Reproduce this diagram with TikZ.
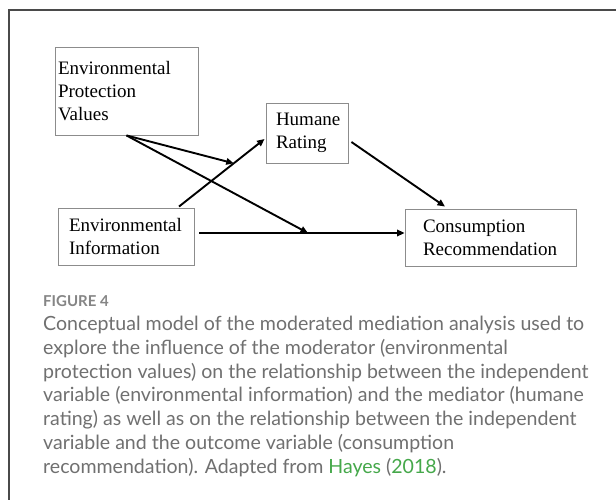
\documentclass[tikz,border=0pt]{standalone}
\usepackage{fontspec}
\setmainfont{Liberation Serif}
\newfontfamily\capfont{Lato}
\usetikzlibrary{arrows.meta,calc}
\definecolor{framegray}{HTML}{4A4A4A}
\definecolor{boxgray}{HTML}{8C8C8C}
\definecolor{captext}{HTML}{707070}
\definecolor{labelgray}{HTML}{858585}
\definecolor{hayes}{HTML}{45A84A}
\newlength\capwidth
% caption size chosen so the first line spans 541pt
\AtBeginDocument{%
  \settowidth\capwidth{\capfont\fontsize{10}{12}\selectfont Conceptual model of the moderated mediation analysis used to}%
  \pgfmathsetmacro\capsize{10*541/\capwidth}%
  \xdef\capsize{\capsize}}

\begin{document}
\begin{tikzpicture}[x=1pt,y=-1pt,
  varbox/.style={draw=boxgray,line width=0.9pt,rectangle,align=left,
    inner ysep=0pt,font=\fontsize{19}{23}\selectfont},
  arr/.style={line width=1.9pt,-{Triangle[length=7.5pt,width=6.5pt]}},
  capline/.style={anchor=base west,inner sep=0pt,text=captext,
    font=\capfont\fontsize{\capsize}{24}\selectfont},
  figlabel/.style={anchor=base west,inner sep=0pt,text=labelgray,
    font=\capfont\bfseries\fontsize{15}{18}\selectfont}]

\fill[white] (0,0) rectangle (616,500);
\useasboundingbox (0,0) rectangle (616,500);

% open frame: top and left edges only
\draw[framegray,line width=1.3pt] (616,10) -- (9,10) -- (9,500);

% variables
\node[varbox,minimum width=143pt,minimum height=88pt,inner xsep=3pt,text width=137pt]
  (epv) at (126.5,91) {Environmental\\Protection\\Values};
\node[varbox,minimum width=82pt,minimum height=60pt,inner xsep=10pt,text width=62pt]
  (hum) at (307,133) {Humane\\Rating};
\node[varbox,minimum width=136pt,minimum height=57pt,inner xsep=11pt,text width=114pt]
  (ei) at (126,236.5) {Environmental\\Information};
\node[varbox,minimum width=171pt,minimum height=57pt,inner xsep=18pt,text width=135pt]
  (cr) at (490.5,237.5) {Consumption\\Recommendation};

% paths
\coordinate (a0) at ([xshift=53pt,yshift=1pt]ei.north);
\coordinate (a1) at ([xshift=-1pt,yshift=-6pt]hum.west);
\coordinate (h0) at ([xshift=5pt,yshift=3.5pt]ei.east);
\coordinate (h1) at (h0 -| cr.west);
\coordinate (m1) at ($(a0)!0.64!(a1)$);
\coordinate (m2) at ($(h0)!0.529!(h1)$);

\draw[arr] (a0) -- (a1);
\draw[arr] (h0) -- (h1);
\draw[arr] ([xshift=3pt,yshift=-9pt]hum.east) -- ([xshift=-45.5pt,yshift=2pt]cr.north);
\draw[arr] (epv.south) -- (m1);
\draw[arr] (epv.south) -- (m2);

% caption
\node[figlabel] (fig) at (43,306) {FIGURE 4};
\node[capline] (c1) at (43,330.5) {Conceptual model of the moderated mediation analysis used to};
\node[capline] (c2) at (43,354.3) {explore the influence of the moderator (environmental};
\node[capline] (c3) at (43,378.1) {protection values) on the relationship between the independent};
\node[capline] (c4) at (43,401.9) {variable (environmental information) and the mediator (humane};
\node[capline] (c5) at (43,425.7) {rating) as well as on the relationship between the independent};
\node[capline] (c6) at (43,449.5) {variable and the outcome variable (consumption};
\node[capline] (c7) at (43,473.3) {recommendation). Adapted from \textcolor{hayes}{Hayes} (\textcolor{hayes}{2018}).};
\end{tikzpicture}
\end{document}
